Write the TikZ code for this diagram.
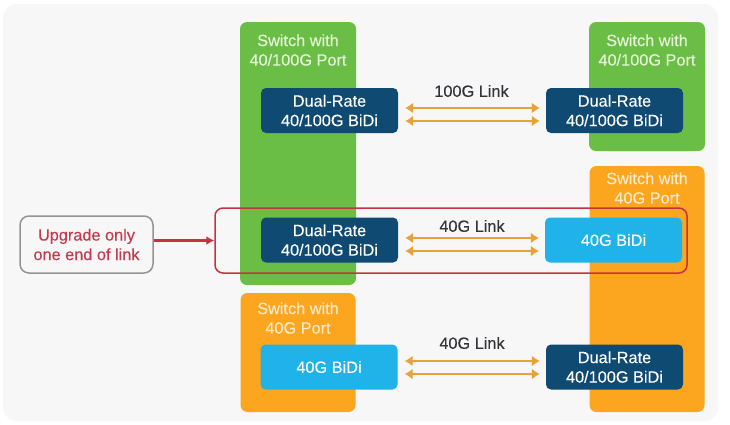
\documentclass[tikz,border=0pt]{standalone}
\usepackage{fontspec}
\setmainfont{Liberation Sans}
\newfontfamily\medfont{Liberation Sans}[FakeBold=0.2]
\usetikzlibrary{arrows.meta}
\definecolor{panelgray}{HTML}{F7F7F8}
\definecolor{swgreen}{HTML}{6ABD45}
\definecolor{sworange}{HTML}{FBA61E}
\definecolor{darkblue}{HTML}{0F4A73}
\definecolor{lightblue}{HTML}{1FB3EA}
\definecolor{linkorange}{HTML}{E9A23B}
\definecolor{framered}{HTML}{C7323F}
\definecolor{textred}{HTML}{C43A4C}
\definecolor{labelgreen}{HTML}{E6F5D8}
\definecolor{labelorange}{HTML}{FDEBC8}
\definecolor{linktext}{HTML}{333338}
\tikzset{
  x=1pt, y=-1pt,
  txt/.style={font=\medfont\fontsize{16.3}{19.5}\selectfont, align=center, inner sep=0pt},
  swbox/.style={rounded corners=7pt, inner sep=0pt, minimum width=#1},
  greenbox/.style={swbox=116pt, fill=swgreen},
  orangebox/.style={swbox=115pt, fill=sworange},
  module/.style={txt, rounded corners=5pt, minimum width=137pt, minimum height=45pt, text=white},
  dualrate/.style={module, fill=darkblue},
  fortyg/.style={module, fill=lightblue},
  greenlabel/.style={txt, text=labelgreen},
  orangelabel/.style={txt, text=labelorange},
  linklabel/.style={txt, text=linktext},
  link/.style={draw=linkorange, line width=2.6pt, {Latex[length=8pt,width=11pt]}-{Latex[length=8pt,width=11pt]}, shorten <=7pt, shorten >=6pt},
}
\begin{document}
\begin{tikzpicture}
\useasboundingbox (0,0) rectangle (730,424);
\fill[white] (0,0) rectangle (730,424);
\node[fill=panelgray, rounded corners=14pt, minimum width=715pt, minimum height=417pt, inner sep=0pt] (panel) at (360.5,212.5) {};

\node[greenbox, minimum height=263pt] (swA) at (298,153.5) {};
\node[greenbox, minimum height=129pt] (swB) at (647,86.5) {};
\node[orangebox, minimum height=246pt] (swC) at (647,289) {};
\node[orangebox, minimum height=119pt] (swD) at (298,352.5) {};

\node[greenlabel] (lblA) at (298,50) {Switch with\\40/100G Port};
\node[greenlabel] (lblB) at (647,50) {Switch with\\40/100G Port};
\node[orangelabel] (lblC) at (647,188) {Switch with\\40G Port};
\node[orangelabel] (lblD) at (298,318) {Switch with\\40G Port};

\node[draw=framered, line width=1.5pt, rounded corners=8pt, minimum width=472pt, minimum height=65pt, inner sep=0pt] (frame) at (451,240.5) {};

\node[dualrate] (m1) at (329.5,110.5) {Dual-Rate\\40/100G BiDi};
\node[dualrate] (m2) at (614.5,110.5) {Dual-Rate\\40/100G BiDi};
\node[dualrate] (m3) at (329.5,240) {Dual-Rate\\40/100G BiDi};
\node[fortyg]   (m4) at (613.5,240) {40G BiDi};
\node[fortyg]   (m5) at (329,367) {40G BiDi};
\node[dualrate] (m6) at (614.5,367) {Dual-Rate\\40/100G BiDi};

\node[linklabel] (l1) at (471.5,91) {100G Link};
\node[linklabel] (l2) at (472,226) {40G Link};
\node[linklabel] (l3) at (472,343) {40G Link};

\draw[link] ([yshift=2.5pt]m1.east) -- ([yshift=2.5pt]m2.west);
\draw[link] ([yshift=-10.5pt]m1.east) -- ([yshift=-10.5pt]m2.west);
\draw[link] ([yshift=2pt]m3.east) -- ([yshift=2pt]m4.west);
\draw[link] ([yshift=-11pt]m3.east) -- ([yshift=-11pt]m4.west);
\draw[link] ([yshift=6pt]m5.east) -- ([yshift=6pt]m6.west);
\draw[link] ([yshift=-7pt]m5.east) -- ([yshift=-7pt]m6.west);

\node[txt, draw=black!42, line width=1.5pt, fill=panelgray, rounded corners=9pt, minimum width=133pt, minimum height=57pt, text=textred] (up) at (86.5,244.5) {Upgrade only\\one end of link};
\draw[draw=framered, line width=2.2pt, -{Latex[length=8pt,width=9pt]}] (up.east |- frame.west) -- (frame.west);
\end{tikzpicture}
\end{document}
